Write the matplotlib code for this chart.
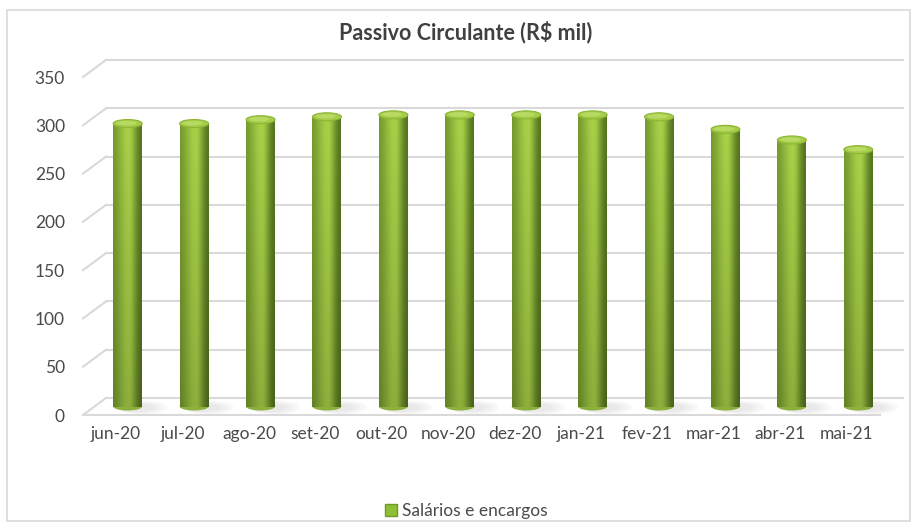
import numpy as np
import matplotlib
matplotlib.use("Agg")
import matplotlib.pyplot as plt
from matplotlib.patches import Ellipse, Rectangle, Polygon, Patch

plt.rcParams["font.family"] = ["Lato", "DejaVu Sans"]

# data
months = ["jun-20", "jul-20", "ago-20", "set-20", "out-20", "nov-20",
          "dez-20", "jan-21", "fev-21", "mar-21", "abr-21", "mai-21"]
salarios = [293, 293, 297, 300, 302, 302, 302, 302, 300, 287, 276, 266]
y_ticks = [0, 50, 100, 150, 200, 250, 300, 350]
series_name = "Salários e encargos"
title = "Passivo Circulante (R$ mil)"

W, H = 913, 522
fig = plt.figure(figsize=(W / 100, H / 100), dpi=100)

# front plane of the 3d box, in pixels
left, right, bottom, top = 83, 880, 415, 77
ax = fig.add_axes([left / W, 1 - bottom / H, (right - left) / W, (bottom - top) / H])
ax.set_xlim(-0.5, len(months) - 0.5)
ax.set_ylim(0, 350)

px_x = (right - left) / len(months)   # pixels per category
px_y = (bottom - top) / 350           # pixels per unit
DX = 23 / px_x                        # depth offset in data units
DY = 17 / px_y
grid_c = "#d9d9d9"
text_c = "#4a4a4a"

# floor
x0, x1 = -0.5, len(months) - 0.5
ax.add_patch(Polygon([(x0, 0), (x1, 0), (x1 + DX, DY), (x0 + DX, DY)],
                     closed=True, facecolor="white", edgecolor="none",
                     zorder=0, clip_on=False))
ax.plot([x0, x1], [0, 0], color=grid_c, lw=1.5, clip_on=False, zorder=1)

# back wall gridlines + left side diagonals
for v in y_ticks:
    ax.plot([x0 + DX, x1 + DX], [v + DY, v + DY], color=grid_c, lw=1.5,
            clip_on=False, zorder=1)
    ax.plot([x0, x0 + DX], [v, v + DY], color=grid_c, lw=1.5,
            clip_on=False, zorder=1)

# cylinder shading: horizontal profile with highlight a bit right of centre
prof = np.linspace(0, 1, 40)
left_c = np.array([0.42, 0.56, 0.16])
right_c = np.array([0.31, 0.43, 0.11])
light = np.array([0.66, 0.82, 0.28])
hcol = np.zeros((40, 3))
for j, p in enumerate(prof):
    e = left_c if p < 0.55 else right_c
    sig = 0.42 if p < 0.55 else 0.28
    w = np.exp(-((p - 0.55) / sig) ** 2)
    hcol[j] = e + (light - e) * w
vfac = np.linspace(0.84, 1.0, 60)  # bottom darker (origin lower)
img = np.clip(hcol[None, :, :] * vfac[:, None, None], 0, 1)

bw = 29 / px_x
ry = 8 / px_y
cx_off = DX / 2
cy_off = DY / 2
for i, v in enumerate(salarios):
    cx = i + cx_off
    # soft shadow on the floor
    for k in range(3):
        ax.add_patch(Ellipse((cx + 0.12 + 0.05 * k, cy_off - 1), bw * (1.3 + 0.2 * k),
                             ry * (1.1 + 0.3 * k), facecolor="#808080", alpha=0.06,
                             edgecolor="none", zorder=2, clip_on=False))
    # bottom rounding
    ax.add_patch(Ellipse((cx, cy_off), bw, ry, facecolor=tuple(hcol[22] * 0.84),
                         edgecolor="none", zorder=3, clip_on=False))
    ax.imshow(img, extent=(cx - bw / 2, cx + bw / 2, cy_off, v + cy_off),
              origin="lower", aspect="auto", interpolation="bilinear",
              zorder=4, clip_on=False)
    # top cap
    ax.add_patch(Ellipse((cx, v + cy_off), bw, ry, facecolor="#a6cd48",
                         edgecolor="#8cb538", lw=0.8, zorder=5, clip_on=False))
    ax.add_patch(Ellipse((cx - 0.02, v + cy_off + 0.5), bw * 0.7, ry * 0.55,
                         facecolor="#b8da63", edgecolor="none", zorder=6,
                         clip_on=False))

ax.set_xlim(-0.5, len(months) - 0.5)
ax.set_ylim(0, 350)
ax.set_xticks(range(len(months)))
ax.set_xticklabels(months, fontsize=12.5, color=text_c)
ax.set_yticks(y_ticks)
ax.set_yticklabels([str(v) for v in y_ticks], fontsize=12.5, color=text_c)
ax.tick_params(length=0)
ax.tick_params(axis="y", pad=13)
ax.tick_params(axis="x", pad=8)
for s in ax.spines.values():
    s.set_visible(False)
ax.patch.set_visible(False)

fig.text(466 / W, 1 - 32 / H, title, ha="center", va="center",
         fontsize=15.5, fontweight="bold", color="#404040")

fig.legend(handles=[Patch(facecolor="#8fbf35", edgecolor="#6f9a28")],
           labels=[series_name], loc="center",
           bbox_to_anchor=(466 / W, 1 - 511 / H), frameon=False,
           fontsize=12.5, handlelength=0.7, handleheight=0.7,
           handletextpad=0.3, labelcolor=text_c)

# chart border
fig.add_artist(Rectangle((7 / W, 1 / H), (W - 10) / W, (H - 11) / H,
                         transform=fig.transFigure, fill=False,
                         edgecolor=grid_c, lw=1.2))

fig.savefig("out.png", dpi=100)
